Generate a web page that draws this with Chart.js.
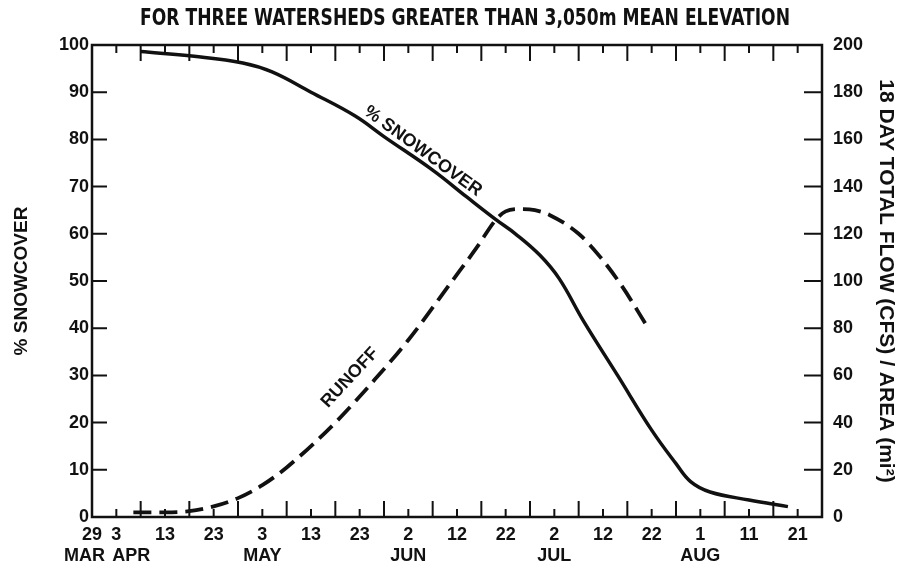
<!DOCTYPE html>
<html>
<head>
<meta charset="utf-8">
<script src="https://cdn.jsdelivr.net/npm/chart.js@4"></script>
<style>
  html, body { margin: 0; padding: 0; background: #fff; }
  #wrap { width: 906px; height: 570px; }
</style>
</head>
<body>
<div id="wrap"><canvas id="snow" width="906" height="570"></canvas></div>
<script>
// days counted from 29 March
const tickDays = [0, 5, 15, 25, 35, 45, 55, 65, 75, 85, 95, 105, 115, 125, 135, 145];
const dayLabels = ["29", "3", "13", "23", "3", "13", "23", "2", "12", "22", "2", "12", "22", "1", "11", "21"];
const monthLabels = ["MAR   ", "      APR", "", "", "MAY", "", "", "JUN", "", "", "JUL", "", "", "AUG", "", ""];

const snowDays = [10, 21, 31, 37, 45, 54, 60, 70, 77, 83, 87, 92, 96, 101, 108, 115, 120, 123, 127, 135, 143];
const snowPct  = [98.6, 97.6, 96.2, 94.3, 90.0, 85.0, 80.6, 73.5, 67.8, 63.0, 60.0, 55.5, 50.5, 41.5, 30.0, 18.4, 11.3, 7.5, 5.3, 3.6, 2.2];

const runoffDays = [8.5, 15, 20, 25, 30, 35, 40, 50, 58, 65, 74, 79, 83, 85, 88, 91, 94, 100, 104.5, 109, 114];
const runoffFlow = [2, 2, 2.5, 4.5, 8, 13.5, 21, 40, 58, 75, 100, 114, 126, 129.5, 130.5, 130, 128, 120, 110, 97.5, 81];

const chartTitle = "FOR THREE WATERSHEDS GREATER THAN 3,050m MEAN ELEVATION";

const boldFont = "'Liberation Sans', Arial, Helvetica, sans-serif";
const ink = "#111";

const snowPoints = snowDays.map((d, i) => ({x: d, y: snowPct[i]}));
const runoffPoints = runoffDays.map((d, i) => ({x: d, y: runoffFlow[i]}));

// condensed title, frame, inward tick marks and the on-curve labels
const frameTicks = {
  id: "frameTicks",
  afterDraw(chart) {
    const ctx = chart.ctx;
    const a = chart.chartArea;
    const x = chart.scales.x, y = chart.scales.y, y2 = chart.scales.y2;
    ctx.save();

    ctx.fillStyle = ink;
    ctx.font = "bold 23px 'DejaVu Sans Condensed', 'DejaVu Sans', sans-serif";
    ctx.textAlign = "center";
    ctx.textBaseline = "middle";
    const w = ctx.measureText(chartTitle).width;
    ctx.save();
    ctx.translate(465, 19);
    ctx.scale(650 / w, 1);
    ctx.fillText(chartTitle, 0, 0);
    ctx.restore();

    ctx.strokeStyle = ink;
    ctx.lineWidth = 2.5;
    ctx.strokeRect(a.left, a.top, a.right - a.left, a.bottom - a.top);

    ctx.lineWidth = 2;
    ctx.beginPath();
    for (let d = 5; d < 150; d += 5) {
      const px = x.getPixelForValue(d);
      const len = d % 10 === 0 ? 16 : 8;
      ctx.moveTo(px, a.bottom); ctx.lineTo(px, a.bottom - len);
      ctx.moveTo(px, a.top); ctx.lineTo(px, a.top + len);
    }
    for (let v = 10; v < 100; v += 10) {
      const py = y.getPixelForValue(v);
      ctx.moveTo(a.left, py); ctx.lineTo(a.left + 15, py);
    }
    for (let v = 20; v < 200; v += 20) {
      const py = y2.getPixelForValue(v);
      ctx.moveTo(a.right, py); ctx.lineTo(a.right - 18, py);
    }
    ctx.stroke();

    ctx.font = "bold 18px " + boldFont;
    ctx.save();
    ctx.translate(x.getPixelForValue(68), y.getPixelForValue(77.5));
    ctx.rotate(36 * Math.PI / 180);
    ctx.fillText("% SNOWCOVER", 0, 0);
    ctx.restore();
    ctx.save();
    ctx.translate(x.getPixelForValue(53), y2.getPixelForValue(59));
    ctx.rotate(-47 * Math.PI / 180);
    ctx.fillText("RUNOFF", 0, 0);
    ctx.restore();
    ctx.restore();
  }
};

var c = document.getElementById("snow");
new Chart(c, {
  type: "line",
  data: {
    datasets: [{
      label: "% SNOWCOVER",
      data: snowPoints,
      yAxisID: "y",
      borderColor: ink,
      borderWidth: 3.5,
      pointRadius: 0,
      tension: 0.4,
      fill: false
    }, {
      label: "RUNOFF",
      data: runoffPoints,
      yAxisID: "y2",
      borderColor: ink,
      borderWidth: 3.8,
      borderDash: [18, 8],
      borderCapStyle: "butt",
      pointRadius: 0,
      cubicInterpolationMode: "monotone",
      fill: false
    }]
  },
  options: {
    responsive: false,
    animation: false,
    layout: { padding: { top: 45 } },
    plugins: {
      legend: { display: false },
      tooltip: { enabled: false },
      title: { display: false }
    },
    scales: {
      x: {
        type: "linear",
        min: 0,
        max: 150,
        afterFit(scale) { scale.height = 53; },
        afterBuildTicks(scale) { scale.ticks = tickDays.map(d => ({value: d})); },
        grid: { display: false, drawTicks: false },
        border: { display: false },
        ticks: {
          autoSkip: false,
          maxRotation: 0,
          padding: 7,
          color: ink,
          font: { family: boldFont, size: 18, weight: "bold", lineHeight: 1.2 },
          callback(value) {
            const i = tickDays.indexOf(value);
            if (i < 0) return "";
            return monthLabels[i] ? [dayLabels[i], monthLabels[i]] : dayLabels[i];
          }
        }
      },
      y: {
        position: "left",
        min: 0,
        max: 100,
        afterFit(scale) { scale.width = 92; },
        grid: { display: false, drawTicks: false },
        border: { display: false },
        ticks: { stepSize: 10, padding: 3, color: ink, font: { family: boldFont, size: 18, weight: "bold" } },
        title: {
          display: true,
          text: "% SNOWCOVER",
          color: ink,
          font: { family: boldFont, size: 19, weight: "bold", lineHeight: 1.2 },
          padding: { top: 10, bottom: 0 }
        }
      },
      y2: {
        position: "right",
        min: 0,
        max: 200,
        afterFit(scale) { scale.width = 84; },
        grid: { display: false, drawTicks: false },
        border: { display: false },
        ticks: { stepSize: 20, padding: 11, color: ink, font: { family: boldFont, size: 18, weight: "bold" } },
        title: {
          display: true,
          text: "18 DAY TOTAL FLOW (CFS) / AREA (mi\u00b2)",
          color: ink,
          font: { family: boldFont, size: 21, weight: "bold", lineHeight: 1.2 },
          padding: { top: 8, bottom: 0 }
        }
      }
    }
  },
  plugins: [frameTicks]
});
</script>
</body>
</html>
